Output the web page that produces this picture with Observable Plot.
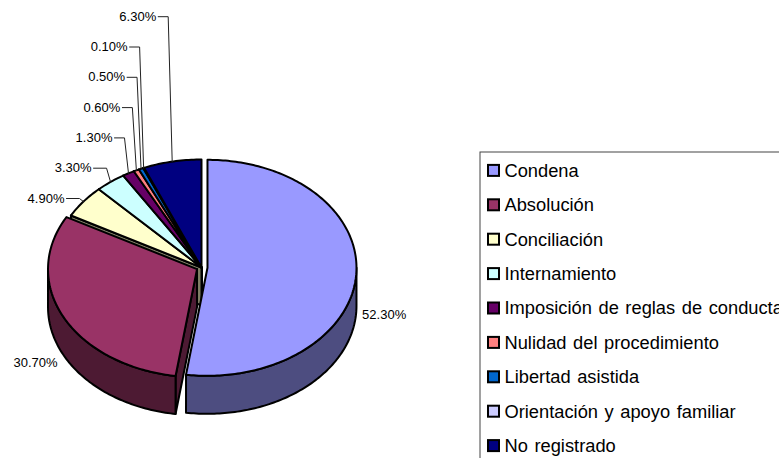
<!DOCTYPE html>
<html><head><meta charset="utf-8">
<script src="https://cdn.jsdelivr.net/npm/d3@7"></script>
<script src="https://cdn.jsdelivr.net/npm/@observablehq/plot@0.6"></script>
<style>
html,body{margin:0;padding:0;background:#fff;overflow:hidden}
#chart svg{display:block;overflow:hidden}
#chart svg .legend-text{word-spacing:1.5px}
</style>
</head><body><div id="chart"></div>
<script>
// ---- data ----
const categories = ["Condena","Absolución","Conciliación","Internamiento","Imposición de reglas de conducta","Nulidad del procedimiento","Libertad asistida","Orientación y apoyo familiar","No registrado"];
const values = [52.3, 30.7, 4.9, 3.3, 1.3, 0.6, 0.5, 0.1, 6.3];
const colors = ["#9999FF","#993366","#FFFFCC","#CCFFFF","#660066","#FF8080","#0066CC","#CCCCFF","#000080"];
const explode = [6, 5, 0, 0, 0, 0, 0, 0, 0];

// ---- layout ----
const W = 779, H = 458;
const cx = 201, cy = 267, rx = 149, ry = 108, depth = 38;
const FONT = "Arial, 'Liberation Sans', sans-serif";
const total = d3.sum(values);
const fmt = v => d3.format(".2f")(v) + "%";

let acc = 0;
const slices = values.map((v, i) => {
  const a0 = acc / total * 2 * Math.PI; acc += v;
  const a1 = acc / total * 2 * Math.PI;
  const mid = (a0 + a1) / 2, e = explode[i];
  return {i, v, a0, a1, mid, ox: e * Math.sin(mid), oy: -e * Math.cos(mid) * ry / rx, color: colors[i]};
});
const pt = (s, t, dz = 0) => [cx + s.ox + rx * Math.sin(t), cy + s.oy - ry * Math.cos(t) + dz];
function arc(s, t0, t1, dz) {
  const n = Math.max(2, Math.ceil((t1 - t0) / (Math.PI / 180)) + 1);
  return d3.range(n).map(k => pt(s, t0 + (t1 - t0) * k / (n - 1), dz));
}
function shade(c, k = 0.5) { const r = d3.rgb(c); return d3.rgb(r.r * k, r.g * k, r.b * k).formatHex(); }

// radial cut faces (visible ones), back to front
const radial = [];
slices.forEach(s => {
  const c = [cx + s.ox, cy + s.oy];
  [[s.a0, Math.sin(s.a0) < -1e-6], [s.a1, Math.sin(s.a1) > 1e-6]].forEach(([t, vis]) => {
    if (!vis) return;
    const r = pt(s, t), rb = pt(s, t, depth);
    radial.push({fillColor: shade(s.color), pts: [c, r, rb, [c[0], c[1] + depth], c], key: (c[1] + r[1]) / 2});
  });
});
radial.sort((a, b) => a.key - b.key);
const polys = [...radial];
// outer front walls
slices.forEach(s => {
  const t0 = Math.max(s.a0, Math.PI / 2), t1 = Math.min(s.a1, 3 * Math.PI / 2);
  if (t1 > t0) {
    const top = arc(s, t0, t1, 0), bot = arc(s, t0, t1, depth).reverse();
    polys.push({fillColor: shade(s.color), pts: [...top, ...bot, top[0]]});
  }
});
// top faces
slices.forEach(s => {
  const c = [cx + s.ox, cy + s.oy];
  polys.push({fillColor: s.color, pts: [c, ...arc(s, s.a0, s.a1, 0), c]});
});
const polyRows = polys.flatMap((p, id) => p.pts.map(([x, y]) => ({id, fillColor: p.fillColor, x, y})));

// labels: big slices beside the pie, small slices stacked with leaders
const rightLabels = [], leftLabels = [], leaderRows = [], smallLabels = [];
slices.forEach(s => {
  if (s.i < 2) {
    const [x, y] = pt(s, s.mid, depth);
    const side = Math.sin(s.mid) >= 0 ? 1 : -1;
    (side > 0 ? rightLabels : leftLabels).push({x: x + 6 * side, y: y - 18 * Math.cos(s.mid), text: fmt(s.v)});
  } else {
    const k = s.i - 2;
    const ly = 198 - 30.3 * k;
    const [ax, ay] = pt({ox: 0, oy: 0}, s.mid, 0);
    const bend = ax - 4, tEnd = bend - (k < 2 ? 15 : 12);
    leaderRows.push({id: k, x: tEnd + 2, y: ly}, {id: k, x: bend, y: ly}, {id: k, x: ax, y: ay});
    smallLabels.push({x: tEnd, y: ly, text: fmt(s.v)});
  }
});

// legend
const legX = 480, legY = 152, itemY0 = 170.4, itemStep = 34.4;
const legendRows = categories.map((c, i) => ({name: c, fillColor: colors[i], y: itemY0 + i * itemStep}));

const chart = Plot.plot({
  width: W, height: H, margin: 0,
  x: {domain: [0, W], range: [0, W], axis: null},
  y: {domain: [0, H], range: [0, H], axis: null},
  color: {type: "identity"},
  style: {fontFamily: FONT, background: "#fff"},
  marks: [
    Plot.line(polyRows, {x: "x", y: "y", z: "id", fill: "fillColor", stroke: "#000", strokeWidth: 2, strokeLinejoin: "round", curve: "linear"}),
    Plot.line(leaderRows, {x: "x", y: "y", z: "id", stroke: "#222", strokeWidth: 1, curve: "linear"}),
    Plot.text(smallLabels, {x: "x", y: "y", text: "text", textAnchor: "end", fontSize: 13, fill: "#000"}),
    Plot.text(rightLabels, {x: "x", y: "y", text: "text", textAnchor: "start", fontSize: 13, fill: "#000"}),
    Plot.text(leftLabels, {x: "x", y: "y", text: "text", textAnchor: "end", fontSize: 13, fill: "#000"}),
    Plot.rect([{x1: legX, x2: W + 20, y1: legY, y2: H + 20}], {x1: "x1", x2: "x2", y1: "y1", y2: "y2", fill: "none", stroke: "#444", strokeWidth: 1}),
    Plot.rect(legendRows, {x1: () => 488, x2: () => 499, y1: d => d.y - 5.5, y2: d => d.y + 5.5, fill: "fillColor", stroke: "#000", strokeWidth: 2}),
    Plot.text(legendRows, {x: () => 504, y: "y", text: "name", textAnchor: "start", fontSize: 18.3, fill: "#000", className: "legend-text"})
  ]
});
document.getElementById("chart").append(chart);
</script>
</body></html>
